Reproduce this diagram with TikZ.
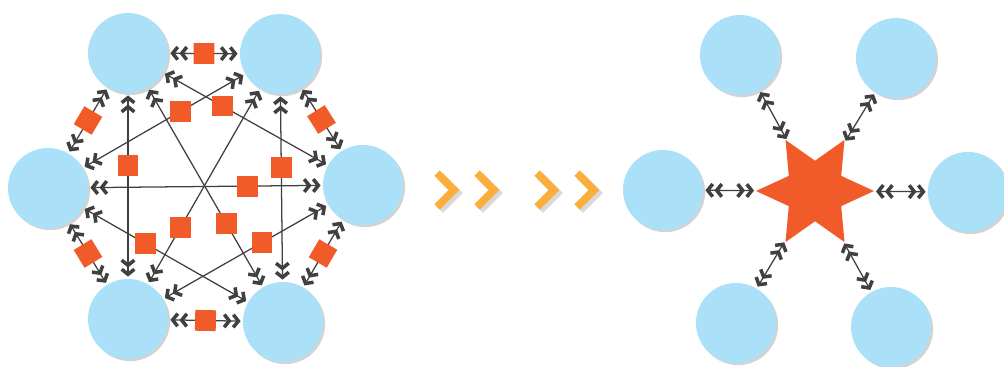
\documentclass[tikz,border=0pt]{standalone}
\usepackage{tikz}
\usetikzlibrary{shapes.geometric,arrows.meta,shadows}
\definecolor{peerblue}{HTML}{ABE0F9}
\definecolor{tileorange}{HTML}{F15A29}
\definecolor{linkgray}{HTML}{404040}
\definecolor{chevyellow}{HTML}{FBAE3B}
\tikzset{
  >={Straight Barb[length=3.6pt,width=9pt,line width=2.5pt]},
  peer/.style={circle, fill=peerblue, minimum size=2cm, inner sep=0pt,
    drop shadow={shadow xshift=1.5pt, shadow yshift=-1.5pt, opacity=.35}},
  tile/.style={rectangle, fill=tileorange, minimum size=0.52cm, inner sep=0pt},
  hub/.style={star, star points=6, star point ratio=1.95, shape border rotate=90,
    minimum size=2.95cm, inner sep=0pt, fill=tileorange},
  link/.style={draw=linkgray, line width=0.9pt, <<->>, shorten <=1.5pt, shorten >=1.5pt},
  chevron/.style={draw=chevyellow, line width=5.5pt, miter limit=10},
  chevshade/.style={draw=black, opacity=.15, line width=6pt, miter limit=10}
}

\begin{document}
\begin{tikzpicture}[x=0.025cm, y=-0.025cm]
	\useasboundingbox (0,0) rectangle (1004,367);

	% full mesh
	\node[peer] (m1) at (128,53) {};
	\node[peer] (m2) at (280,54) {};
	\node[peer] (m3) at (363,185) {};
	\node[peer] (m4) at (283,322) {};
	\node[peer] (m5) at (128,319) {};
	\node[peer] (m6) at (48,188) {};

	\draw[link] (m1) -- node[tile,sloped] (t12) {} (m2);
	\draw[link] (m2) -- node[tile,sloped] (t23) {} (m3);
	\draw[link] (m3) -- node[tile,sloped] (t34) {} (m4);
	\draw[link] (m4) -- node[tile,sloped] (t45) {} (m5);
	\draw[link] (m5) -- node[tile,sloped] (t56) {} (m6);
	\draw[link] (m6) -- node[tile,sloped] (t61) {} (m1);

	\draw[link] (m1) -- node[tile,pos=.39] (t15) {} (m5);
	\draw[link] (m2) -- node[tile,pos=.39] (t24) {} (m4);
	\draw[link] (m6) -- node[tile,pos=.68] (t63) {} (m3);
	\draw[link] (m1) -- node[tile,pos=.36] (t13) {} (m3);
	\draw[link] (m2) -- node[tile,pos=.40] (t26) {} (m6);
	\draw[link] (m1) -- node[tile,pos=.68] (t14) {} (m4);
	\draw[link] (m2) -- node[tile,pos=.71] (t25) {} (m5);
	\draw[link] (m6) -- node[tile,pos=.38] (t64) {} (m4);
	\draw[link] (m5) -- node[tile,pos=.60] (t53) {} (m3);

	% chevrons
	\foreach \x in {437,477,537,577} {
		\draw[chevshade] (\x+3,176) -- (\x+20,193) -- (\x+3,210);
		\draw[chevron] (\x,173) -- (\x+17,190) -- (\x,207);
	}

	% star
	\node[hub] (hub) at (815,191) {};
	\node[peer] (s1) at (740,55) {};
	\node[peer] (s2) at (896,58) {};
	\node[peer] (s3) at (968,192) {};
	\node[peer] (s4) at (891,327) {};
	\node[peer] (s5) at (736,323) {};
	\node[peer] (s6) at (663,190) {};

	\foreach \s in {s1,s2,s3,s4,s5,s6}
		\draw[link] (hub) -- (\s);

\end{tikzpicture}
\end{document}
